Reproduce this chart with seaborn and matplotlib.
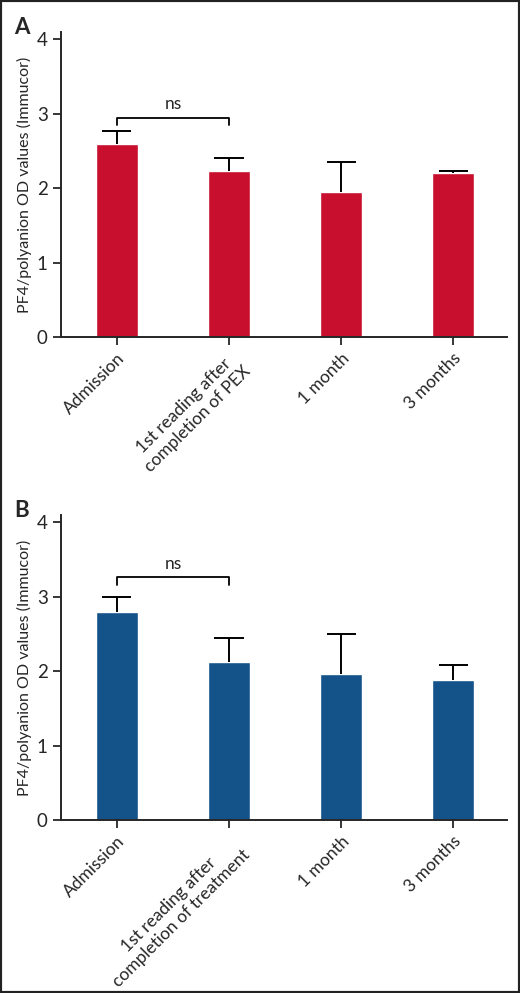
import numpy as np
import pandas as pd
import seaborn as sns
import matplotlib.pyplot as plt
from matplotlib.patches import Rectangle

# values
labels_a = ["Admission", "1st reading after\ncompletion of PEX", "1 month", "3 months"]
labels_b = ["Admission", "1st reading after\ncompletion of treatment", "1 month", "3 months"]
means_a = [2.60, 2.235, 1.95, 2.20]
err_a = [0.17, 0.165, 0.40, 0.025]
means_b = [2.79, 2.12, 1.96, 1.88]
err_b = [0.21, 0.33, 0.54, 0.21]
bracket_a = 2.95
bracket_b = 3.26

sns.set_style("ticks")
plt.rcParams["font.family"] = ["Lato", "DejaVu Sans"]

fig = plt.figure(figsize=(5.2, 9.93), dpi=100)
ax_a = fig.add_axes([0.117, 0.6606, 0.858, 0.3072])
ax_b = fig.add_axes([0.117, 0.1742, 0.858, 0.3072])


def panel(ax, labels, means, errs, color, bracket, letter):
    df = pd.DataFrame({"cond": labels, "val": means})
    sns.barplot(data=df, x="cond", y="val", color=color, saturation=1,
                width=0.38, errorbar=None, ax=ax)
    x = np.arange(len(means))
    m = np.array(means)
    e = np.array(errs)
    ax.vlines(x, m, m + e, color="black", lw=1.4, zorder=3)
    ax.hlines(m + e, x - 0.13, x + 0.13, color="black", lw=1.4, zorder=3)

    # significance bracket between first two bars
    ax.plot([0, 0, 1, 1], [bracket - 0.1, bracket, bracket, bracket - 0.1],
            color="black", lw=1.3)
    ax.text(0.5, bracket + 0.07, "ns", ha="center", va="bottom", fontsize=12.5)

    ax.set_ylim(0, 4.1)
    ax.set_xlim(-0.5, 3.48)
    ax.set_yticks([0, 1, 2, 3, 4])
    ax.set_xticks(x)
    ax.set_xticklabels(labels, rotation=45, ha="right", rotation_mode="anchor",
                       multialignment="center", fontsize=12.5)
    ax.tick_params(axis="y", labelsize=13.5, width=1.3, length=6)
    ax.tick_params(axis="x", width=1.3, length=6)
    ax.set_xlabel("")
    ax.set_ylabel("PF4/polyanion OD values (Immucor)", fontsize=11.5, labelpad=3)
    for s in ["left", "bottom"]:
        ax.spines[s].set_linewidth(1.4)
    sns.despine(ax=ax)
    ax.text(-0.105, 1.05, letter, transform=ax.transAxes, fontsize=16,
            fontweight="bold", ha="left", va="top")


panel(ax_a, labels_a, means_a, err_a, "#C8102E", bracket_a, "A")
panel(ax_b, labels_b, means_b, err_b, "#135389", bracket_b, "B")

fig.patches.append(Rectangle((0, 0), 1, 1, transform=fig.transFigure,
                             fill=False, lw=3, ec="#222222"))

fig.savefig("out.png", dpi=100)
